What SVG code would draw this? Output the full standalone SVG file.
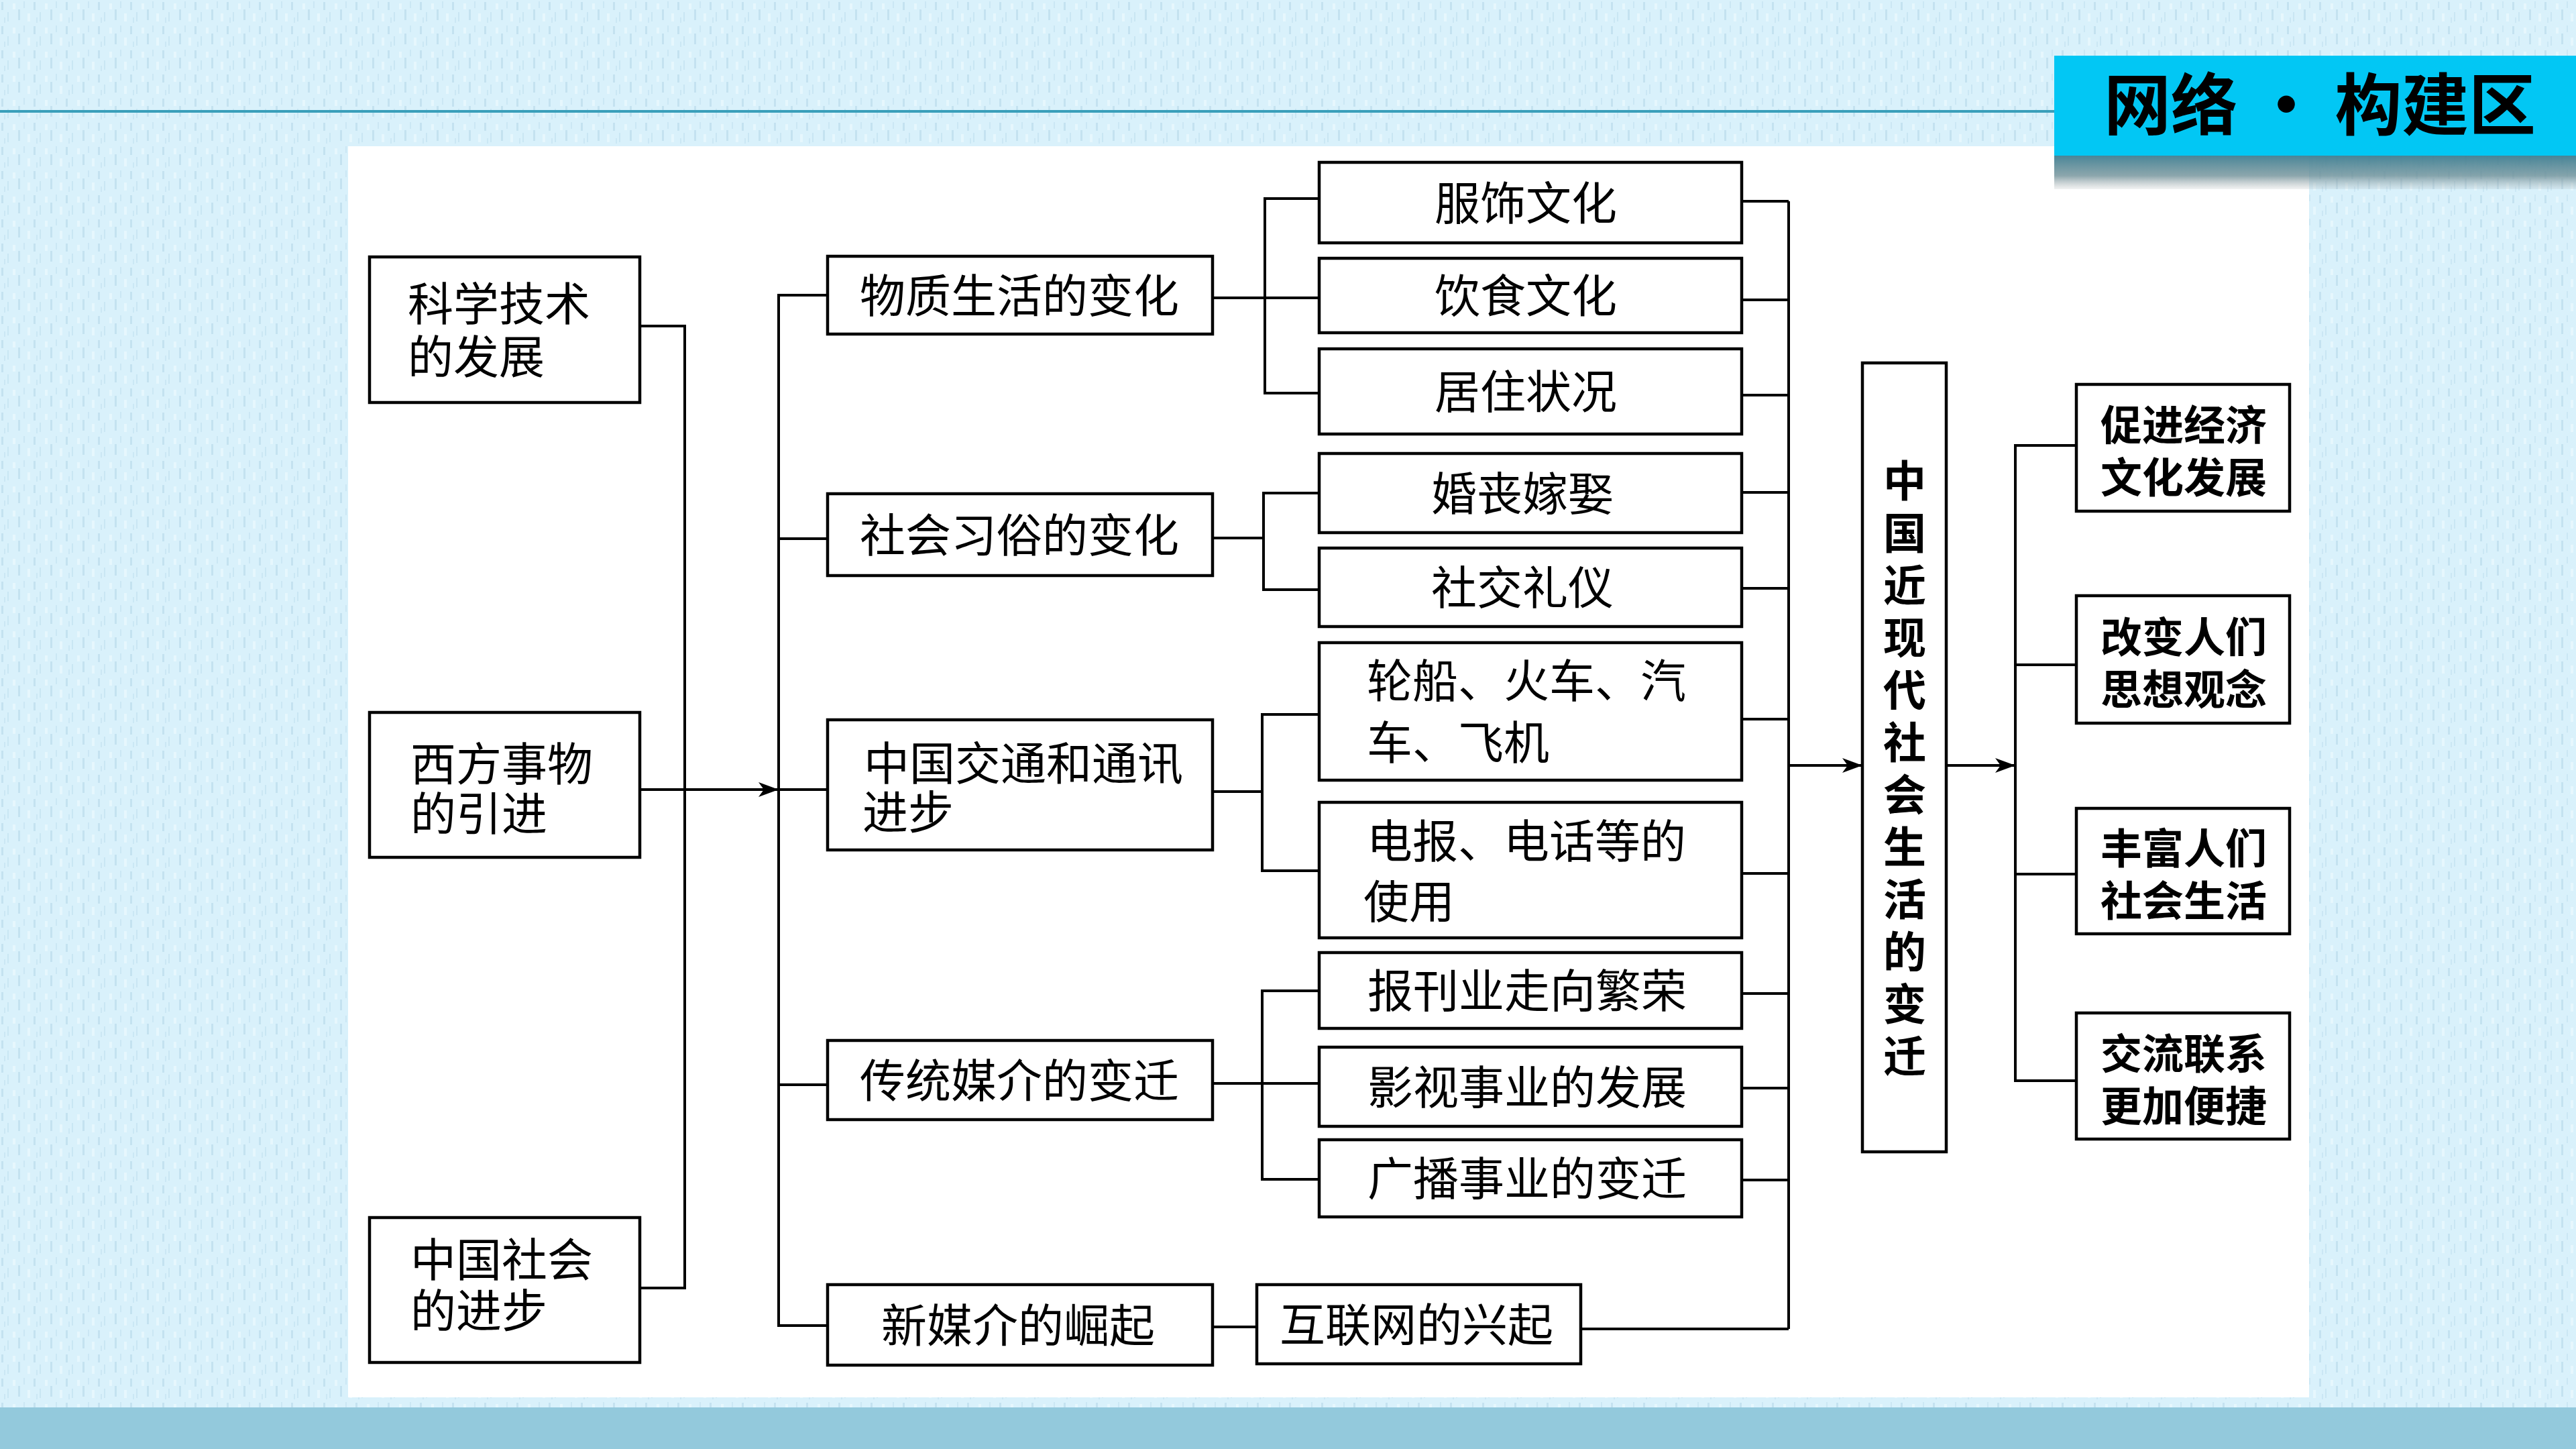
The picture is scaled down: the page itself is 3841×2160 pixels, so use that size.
<svg xmlns="http://www.w3.org/2000/svg" width="3841" height="2160" viewBox="0 0 3841 2160">
<style>
.box{fill:#fff;stroke:#000;stroke-width:4.5}
.ln{fill:none;stroke:#000;stroke-width:4}
.t{font-family:"Noto Sans CJK SC","Liberation Serif",sans-serif;font-size:68px;fill:#000}
.m{text-anchor:middle}
.r{font-size:62px;font-weight:600}
.v{font-size:64px;font-weight:600;text-anchor:middle}
.h{font-family:"Noto Sans CJK SC",sans-serif;font-size:100px;font-weight:700;fill:#000}
</style>
<defs>
<pattern id="tex" width="48" height="36" patternUnits="userSpaceOnUse">
<rect width="48" height="36" fill="#d9f1fb"/>
<rect x="2" y="3" width="3" height="12" fill="#c4e2f0"/>
<rect x="11" y="18" width="2" height="14" fill="#c9e6f3"/>
<rect x="19" y="5" width="4" height="9" fill="#e6f7fd"/>
<rect x="27" y="14" width="3" height="16" fill="#c4e2f0"/>
<rect x="35" y="2" width="2" height="10" fill="#cbe7f4"/>
<rect x="41" y="20" width="4" height="12" fill="#e6f7fd"/>
<rect x="6" y="26" width="2" height="8" fill="#cbe7f4"/>
</pattern>
<linearGradient id="shd" x1="0" y1="0" x2="0" y2="1">
<stop offset="0" stop-color="#3f7f92" stop-opacity="0.95"/>
<stop offset="0.6" stop-color="#6f9098" stop-opacity="0.8"/>
<stop offset="1" stop-color="#a0a8aa" stop-opacity="0.15"/>
</linearGradient>
<marker id="arr" viewBox="0 0 30 22" refX="30" refY="11" markerWidth="30" markerHeight="22" markerUnits="userSpaceOnUse" orient="auto">
<path d="M0,0 L30,11 L0,22 L8,11 Z" fill="#000"/>
</marker>
</defs>

<rect width="3841" height="2160" fill="url(#tex)"/>
<line x1="0" y1="166" x2="3063" y2="166" stroke="#3a9fba" stroke-width="4"/>
<rect x="519" y="218" width="2924" height="1865" fill="#fff"/>
<rect x="0" y="2098" width="3841" height="62" fill="#93c9dc"/>

<g id="header">
<rect x="3063" y="83" width="778" height="149" fill="#02c7f4"/>
<rect x="3063" y="232" width="778" height="50" fill="url(#shd)"/>
<text class="h" x="3137" y="193" textLength="644" lengthAdjust="spacing">网络 • 构建区</text>
</g>

<g id="connectors">
<path class="ln" d="M954,486 H1021 V1920 H954"/>
<path class="ln" d="M954,1177 H1161" marker-end="url(#arr)"/>
<path class="ln" d="M1161,1177 H1234"/>
<path class="ln" d="M1234,440 H1161 V1976 H1234"/>
<path class="ln" d="M1161,803 H1234 M1161,1617 H1234"/>
<path class="ln" d="M1808,444 H1886 M1967,296 H1886 V586 H1967 M1886,444 H1967"/>
<path class="ln" d="M1808,802 H1884 M1967,735 H1884 V879 H1967"/>
<path class="ln" d="M1808,1180 H1882 M1967,1065 H1882 V1298 H1967"/>
<path class="ln" d="M1808,1615 H1967 M1967,1477 H1882 V1758 H1967"/>
<path class="ln" d="M1808,1978 H1874"/>
<path class="ln" d="M2667,300 V1981"/>
<path class="ln" d="M2597,300 H2667 M2597,447 H2667 M2597,589 H2667 M2597,734 H2667 M2597,877 H2667 M2597,1072 H2667 M2597,1302 H2667 M2597,1481 H2667 M2597,1622 H2667 M2597,1759 H2667 M2357,1981 H2667"/>
<path class="ln" d="M2669,1141 H2777" marker-end="url(#arr)"/>
<path class="ln" d="M2902,1141 H3005" marker-end="url(#arr)"/>
<path class="ln" d="M3096,664 H3005 V1611 H3096 M3005,991 H3096 M3005,1303 H3096"/>
</g>

<g id="n-kexue"><rect class="box" x="551" y="383" width="403" height="217"/>
<text class="t" x="608" y="478">科学技术<tspan x="608" dy="79">的发展</tspan></text></g>
<g id="n-xifang"><rect class="box" x="551" y="1062" width="403" height="216"/>
<text class="t" x="612" y="1164">西方事物<tspan x="612" dy="74">的引进</tspan></text></g>
<g id="n-shehui"><rect class="box" x="551" y="1815" width="403" height="216"/>
<text class="t" x="612" y="1903">中国社会<tspan x="612" dy="76">的进步</tspan></text></g>

<g id="n-wuzhi"><rect class="box" x="1234" y="382" width="574" height="116"/>
<text class="t m" x="1520" y="466">物质生活的变化</text></g>
<g id="n-xisu"><rect class="box" x="1234" y="736" width="574" height="122"/>
<text class="t m" x="1520" y="823">社会习俗的变化</text></g>
<g id="n-jiaotong"><rect class="box" x="1234" y="1073" width="574" height="194"/>
<text class="t" x="1288" y="1163">中国交通和通讯<tspan x="1286" dy="73">进步</tspan></text></g>
<g id="n-chuantong"><rect class="box" x="1234" y="1551" width="574" height="118"/>
<text class="t m" x="1520" y="1636">传统媒介的变迁</text></g>
<g id="n-xinmeijie"><rect class="box" x="1234" y="1915" width="574" height="120"/>
<text class="t m" x="1518" y="2001">新媒介的崛起</text></g>

<g id="n-fushi"><rect class="box" x="1967" y="242" width="630" height="120"/>
<text class="t m" x="2275" y="328">服饰文化</text></g>
<g id="n-yinshi"><rect class="box" x="1967" y="385" width="630" height="111"/>
<text class="t m" x="2275" y="466">饮食文化</text></g>
<g id="n-juzhu"><rect class="box" x="1967" y="520" width="630" height="127"/>
<text class="t m" x="2275" y="609">居住状况</text></g>
<g id="n-hunsang"><rect class="box" x="1967" y="676" width="630" height="118"/>
<text class="t m" x="2270" y="761">婚丧嫁娶</text></g>
<g id="n-shejiao"><rect class="box" x="1967" y="817" width="630" height="117"/>
<text class="t m" x="2270" y="901">社交礼仪</text></g>
<g id="n-lunchuan"><rect class="box" x="1967" y="958" width="630" height="205"/>
<text class="t" x="2038" y="1040">轮船、火车、汽<tspan x="2038" dy="92">车、飞机</tspan></text></g>
<g id="n-dianbao"><rect class="box" x="1967" y="1196" width="630" height="202"/>
<text class="t" x="2038" y="1279">电报、电话等的<tspan x="2033" dy="90">使用</tspan></text></g>
<g id="n-baokan"><rect class="box" x="1967" y="1420" width="630" height="113"/>
<text class="t m" x="2277" y="1502">报刊业走向繁荣</text></g>
<g id="n-yingshi"><rect class="box" x="1967" y="1561" width="630" height="118"/>
<text class="t m" x="2277" y="1646">影视事业的发展</text></g>
<g id="n-guangbo"><rect class="box" x="1967" y="1699" width="630" height="115"/>
<text class="t m" x="2277" y="1782">广播事业的变迁</text></g>
<g id="n-hulianwang"><rect class="box" x="1874" y="1915" width="483" height="118"/>
<text class="t m" x="2112" y="2000">互联网的兴起</text></g>

<g id="n-center"><rect class="box" x="2777" y="541" width="125" height="1176"/>
<text class="t v" x="2840" y="740">中<tspan x="2840" dy="78">国</tspan><tspan x="2840" dy="78">近</tspan><tspan x="2840" dy="78">现</tspan><tspan x="2840" dy="78">代</tspan><tspan x="2840" dy="78">社</tspan><tspan x="2840" dy="78">会</tspan><tspan x="2840" dy="78">生</tspan><tspan x="2840" dy="78">活</tspan><tspan x="2840" dy="78">的</tspan><tspan x="2840" dy="78">变</tspan><tspan x="2840" dy="78">迁</tspan></text>
</g>

<g id="n-cujin"><rect class="box" x="3096" y="573" width="318" height="189"/>
<text class="t r m" x="3256" y="657">促进经济<tspan x="3256" dy="78">文化发展</tspan></text></g>
<g id="n-gaibian"><rect class="box" x="3096" y="888" width="318" height="190"/>
<text class="t r m" x="3256" y="973">改变人们<tspan x="3256" dy="78">思想观念</tspan></text></g>
<g id="n-fengfu"><rect class="box" x="3096" y="1205" width="318" height="187"/>
<text class="t r m" x="3256" y="1288">丰富人们<tspan x="3256" dy="78">社会生活</tspan></text></g>
<g id="n-jiaoliu"><rect class="box" x="3096" y="1510" width="318" height="188"/>
<text class="t r m" x="3256" y="1594">交流联系<tspan x="3256" dy="78">更加便捷</tspan></text></g>
</svg>
